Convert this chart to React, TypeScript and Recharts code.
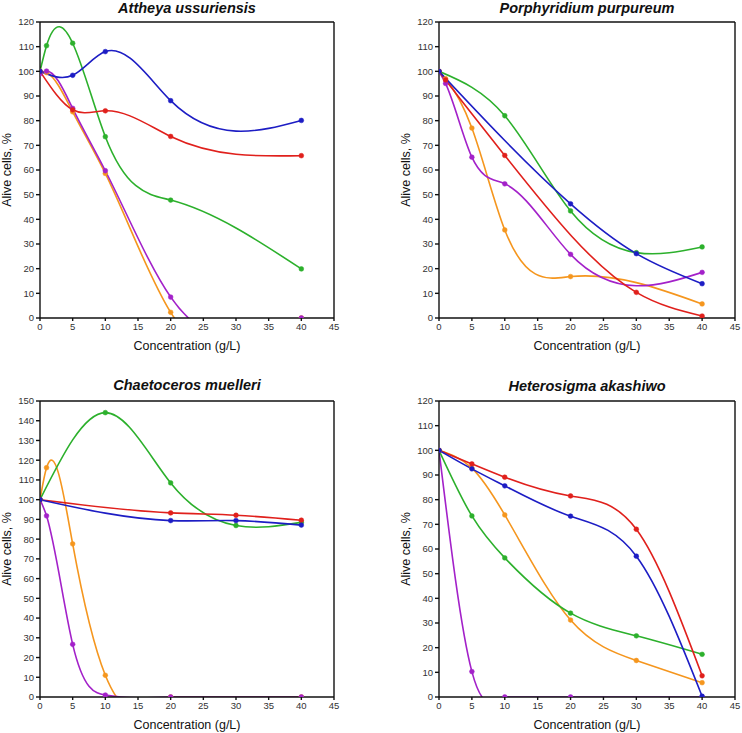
import React from 'react';
import { LineChart, Line, XAxis, YAxis } from 'recharts';

// x positions (g/L) and survival values (%)
const titles = ['Attheya ussuriensis', 'Porphyridium purpureum', 'Chaetoceros muelleri', 'Heterosigma akashiwo'];
const xTicks = [0, 5, 10, 15, 20, 25, 30, 35, 40, 45];
const yTicks120 = [0, 10, 20, 30, 40, 50, 60, 70, 80, 90, 100, 110, 120];
const yTicks150 = [0, 10, 20, 30, 40, 50, 60, 70, 80, 90, 100, 110, 120, 130, 140, 150];

const colors = { orange: '#f5961e', purple: '#a321c9', green: '#2cb02c', red: '#e0201c', blue: '#1d1dc4' };

// Attheya ussuriensis
const attX_green = [0, 1, 5, 10, 20, 40];
const attY_green = [100, 110.4, 111.4, 73.5, 47.8, 19.9];
const attX_blue = [0, 5, 10, 20, 40];
const attY_blue = [100, 98.4, 108, 88.1, 80.1];
const attX_red = [0, 5, 10, 20, 40];
const attY_red = [100, 84.4, 84, 73.6, 65.8];
const attX_orange = [0, 1, 5, 10, 20, 40];
const attY_orange = [100, 99.5, 83.6, 58.6, 2.3, 0];
const attX_purple = [0, 1, 5, 10, 20, 40];
const attY_purple = [99, 100.1, 85, 59.7, 8.5, 0];

// Porphyridium purpureum
const porX_green = [0, 10, 20, 30, 40];
const porY_green = [100, 82, 43.4, 26.5, 28.8];
const porX_blue = [0, 20, 30, 40];
const porY_blue = [100, 46.3, 26.1, 13.9];
const porX_red = [0, 1, 10, 30, 40];
const porY_red = [100, 96.5, 65.9, 10.4, 0.8];
const porX_orange = [0, 1, 5, 10, 20, 40];
const porY_orange = [100, 97, 77, 35.7, 16.8, 5.7];
const porX_purple = [0, 1, 5, 10, 20, 40];
const porY_purple = [100, 95.1, 65.2, 54.4, 25.8, 18.5];

// Chaetoceros muelleri
const chaX_green = [0, 10, 20, 30, 40];
const chaY_green = [100, 144.1, 108.5, 86.9, 88.5];
const chaX_blue = [0, 20, 30, 40];
const chaY_blue = [100, 89.4, 89.4, 87.1];
const chaX_red = [0, 20, 30, 40];
const chaY_red = [100, 93.3, 92.1, 89.6];
const chaX_orange = [0, 1, 5, 10, 20, 40];
const chaY_orange = [100, 116.2, 77.6, 11, 0, 0];
const chaX_purple = [0, 1, 5, 10, 20, 40];
const chaY_purple = [100, 91.8, 26.7, 1, 0, 0];

// Heterosigma akashiwo
const hetX_green = [0, 5, 10, 20, 30, 40];
const hetY_green = [100, 73.4, 56.4, 34, 24.8, 17.3];
const hetX_blue = [0, 5, 10, 20, 30, 40];
const hetY_blue = [100, 92.5, 85.6, 73.3, 57.1, 0.3];
const hetX_red = [0, 5, 10, 20, 30, 40];
const hetY_red = [100, 94.5, 89.1, 81.5, 68, 8.6];
const hetX_orange = [0, 5, 10, 20, 30, 40];
const hetY_orange = [100, 92.8, 73.8, 31.2, 14.8, 5.8];
const hetX_purple = [0, 5, 10, 20, 40];
const hetY_purple = [100, 10.3, 0, 0, 0];

const pts = (xs: number[], ys: number[]) => xs.map((x, i) => ({ x, y: ys[i] }));

// natural cubic spline of y over x, drawn as bezier pieces
function drawSpline(context: any, xs: number[], ys: number[]) {
  const n = xs.length;
  if (n < 2) return;
  if (n === 2) {
    context.lineTo(xs[1], ys[1]);
    return;
  }
  const h: number[] = [];
  for (let i = 0; i < n - 1; i++) h.push(xs[i + 1] - xs[i]);
  const M = new Array(n).fill(0);
  const a: number[] = [], b: number[] = [], c: number[] = [], r: number[] = [];
  for (let i = 1; i < n - 1; i++) {
    a.push(h[i - 1]);
    b.push(2 * (h[i - 1] + h[i]));
    c.push(h[i]);
    r.push(6 * ((ys[i + 1] - ys[i]) / h[i] - (ys[i] - ys[i - 1]) / h[i - 1]));
  }
  const m = b.length;
  for (let i = 1; i < m; i++) {
    const w = a[i] / b[i - 1];
    b[i] -= w * c[i - 1];
    r[i] -= w * r[i - 1];
  }
  const sol = new Array(m).fill(0);
  sol[m - 1] = r[m - 1] / b[m - 1];
  for (let i = m - 2; i >= 0; i--) sol[i] = (r[i] - c[i] * sol[i + 1]) / b[i];
  for (let i = 0; i < m; i++) M[i + 1] = sol[i];
  for (let i = 0; i < n - 1; i++) {
    const s = (ys[i + 1] - ys[i]) / h[i];
    const d0 = s - (h[i] * (2 * M[i] + M[i + 1])) / 6;
    const d1 = s + (h[i] * (M[i] + 2 * M[i + 1])) / 6;
    context.bezierCurveTo(
      xs[i] + h[i] / 3, ys[i] + (d0 * h[i]) / 3,
      xs[i + 1] - h[i] / 3, ys[i + 1] - (d1 * h[i]) / 3,
      xs[i + 1], ys[i + 1]
    );
  }
}

// curve factory: spline pieces, but runs that sit flat on the floor are drawn straight
function xSpline(context: any) {
  let xs: number[] = [];
  let ys: number[] = [];
  return {
    areaStart() {},
    areaEnd() {},
    lineStart() {
      xs = [];
      ys = [];
    },
    point(x: number, y: number) {
      xs.push(+x);
      ys.push(+y);
    },
    lineEnd() {
      const n = xs.length;
      if (!n) return;
      context.moveTo(xs[0], ys[0]);
      const floor = Math.max(...ys);
      let start = 0;
      for (let i = 0; i < n - 1; i++) {
        if (Math.abs(ys[i] - floor) < 0.01 && Math.abs(ys[i + 1] - floor) < 0.01) {
          drawSpline(context, xs.slice(start, i + 1), ys.slice(start, i + 1));
          context.lineTo(xs[i + 1], ys[i + 1]);
          start = i + 1;
        }
      }
      drawSpline(context, xs.slice(start), ys.slice(start));
    },
  };
}

const FONT = '"Liberation Sans", Arial, sans-serif';

type Series = { color: string; data: { x: number; y: number }[] };

const panels: { series: Series[]; yMax: number; yTicks: number[] }[] = [
  {
    yMax: 120,
    yTicks: yTicks120,
    series: [
      { color: colors.orange, data: pts(attX_orange, attY_orange) },
      { color: colors.purple, data: pts(attX_purple, attY_purple) },
      { color: colors.green, data: pts(attX_green, attY_green) },
      { color: colors.red, data: pts(attX_red, attY_red) },
      { color: colors.blue, data: pts(attX_blue, attY_blue) },
    ],
  },
  {
    yMax: 120,
    yTicks: yTicks120,
    series: [
      { color: colors.orange, data: pts(porX_orange, porY_orange) },
      { color: colors.purple, data: pts(porX_purple, porY_purple) },
      { color: colors.green, data: pts(porX_green, porY_green) },
      { color: colors.red, data: pts(porX_red, porY_red) },
      { color: colors.blue, data: pts(porX_blue, porY_blue) },
    ],
  },
  {
    yMax: 150,
    yTicks: yTicks150,
    series: [
      { color: colors.orange, data: pts(chaX_orange, chaY_orange) },
      { color: colors.purple, data: pts(chaX_purple, chaY_purple) },
      { color: colors.green, data: pts(chaX_green, chaY_green) },
      { color: colors.red, data: pts(chaX_red, chaY_red) },
      { color: colors.blue, data: pts(chaX_blue, chaY_blue) },
    ],
  },
  {
    yMax: 120,
    yTicks: yTicks120,
    series: [
      { color: colors.purple, data: pts(hetX_purple, hetY_purple) },
      { color: colors.orange, data: pts(hetX_orange, hetY_orange) },
      { color: colors.green, data: pts(hetX_green, hetY_green) },
      { color: colors.red, data: pts(hetX_red, hetY_red) },
      { color: colors.blue, data: pts(hetX_blue, hetY_blue) },
    ],
  },
];

// layout of each panel: chart box, and width of the y-axis strip
const X_AXIS_H = 30;
const boxes = [
  { left: 0, top: 0, height: 365, axisW: 40, mTop: 22, mRight: 37, mBottom: 17, labelX: 7, titleY: 0 },
  { left: 371, top: 0, height: 365, axisW: 68, mTop: 22, mRight: 7, mBottom: 17, labelX: 35, titleY: 0 },
  { left: 0, top: 370, height: 363, axisW: 40, mTop: 31, mRight: 37, mBottom: 6, labelX: 7, titleY: 7 },
  { left: 371, top: 370, height: 363, axisW: 68, mTop: 31, mRight: 7, mBottom: 6, labelX: 35, titleY: 8 },
];

function Panel({ idx }: { idx: number }) {
  const p = panels[idx];
  const bx = boxes[idx];
  const plotLeft = bx.axisW;
  const plotRight = 371 - bx.mRight;
  const yLabel = (props: any) => {
    const vb = props.viewBox;
    const cx = bx.labelX;
    const cy = vb.y + vb.height / 2;
    return (
      <text x={cx} y={cy} transform={`rotate(-90 ${cx} ${cy})`} textAnchor="middle" dominantBaseline="central"
        fontSize={12.5} fill="#111" fontFamily={FONT}>
        Alive cells, %
      </text>
    );
  };
  const xLabel = (props: any) => {
    const vb = props.viewBox;
    return (
      <text x={vb.x + vb.width / 2} y={vb.y + 28} textAnchor="middle" dominantBaseline="central"
        fontSize={12.5} fill="#111" fontFamily={FONT}>
        Concentration (g/L)
      </text>
    );
  };
  return (
    <div style={{ position: 'absolute', left: bx.left, top: bx.top, width: 371, height: bx.height }}>
      <div style={{
        position: 'absolute', left: plotLeft, width: plotRight - plotLeft, top: bx.titleY, textAlign: 'center',
        fontFamily: FONT, fontWeight: 'bold', fontStyle: 'italic', fontSize: 14.5, color: '#111', lineHeight: '17px',
      }}>
        {titles[idx]}
      </div>
      <LineChart width={371} height={bx.height}
        margin={{ top: bx.mTop - 1, right: bx.mRight - 1, bottom: bx.mBottom, left: 0 }}>
        <XAxis dataKey="x" type="number" domain={[0, 45]} ticks={xTicks} allowDataOverflow
          height={X_AXIS_H} stroke="#111" strokeWidth={1.4} tickSize={3} tickLine={{ stroke: '#111' }}
          tick={{ fontSize: 9.5, fill: '#333', fontFamily: FONT }} label={xLabel} />
        {/* twin axes with the same domains: they only draw the top and right edges of the frame */}
        <XAxis xAxisId="top" orientation="top" dataKey="x" type="number" domain={[0, 45]} allowDataOverflow
          height={1} tick={false} tickLine={false} stroke="#111" strokeWidth={1.4} />
        <YAxis dataKey="y" type="number" domain={[0, p.yMax]} ticks={p.yTicks} allowDataOverflow interval={0}
          width={bx.axisW} stroke="#111" strokeWidth={1.4} tickSize={4} tickLine={{ stroke: '#111' }}
          tick={{ fontSize: 9.5, fill: '#333', fontFamily: FONT }} label={yLabel} />
        <YAxis yAxisId="right" orientation="right" dataKey="y" type="number" domain={[0, p.yMax]} allowDataOverflow
          width={1} tick={false} tickLine={false} stroke="#111" strokeWidth={1.4} />
        {p.series.map((s, i) => (
          <Line key={i} data={s.data} dataKey="y" type={xSpline as any} stroke={s.color} strokeWidth={1.6}
            xAxisId={i === 0 ? 'top' : 0} yAxisId={i === 0 ? 'right' : 0}
            dot={{ r: 2.4, fill: s.color, stroke: s.color, strokeWidth: 0.5 }} activeDot={false}
            isAnimationActive={false} />
        ))}
      </LineChart>
    </div>
  );
}

export default function App() {
  return (
    <div style={{ position: 'absolute', left: 0, top: 0, width: 742, height: 733, background: '#fff' }}>
      {[0, 1, 2, 3].map((i) => (
        <Panel key={i} idx={i} />
      ))}
    </div>
  );
}
